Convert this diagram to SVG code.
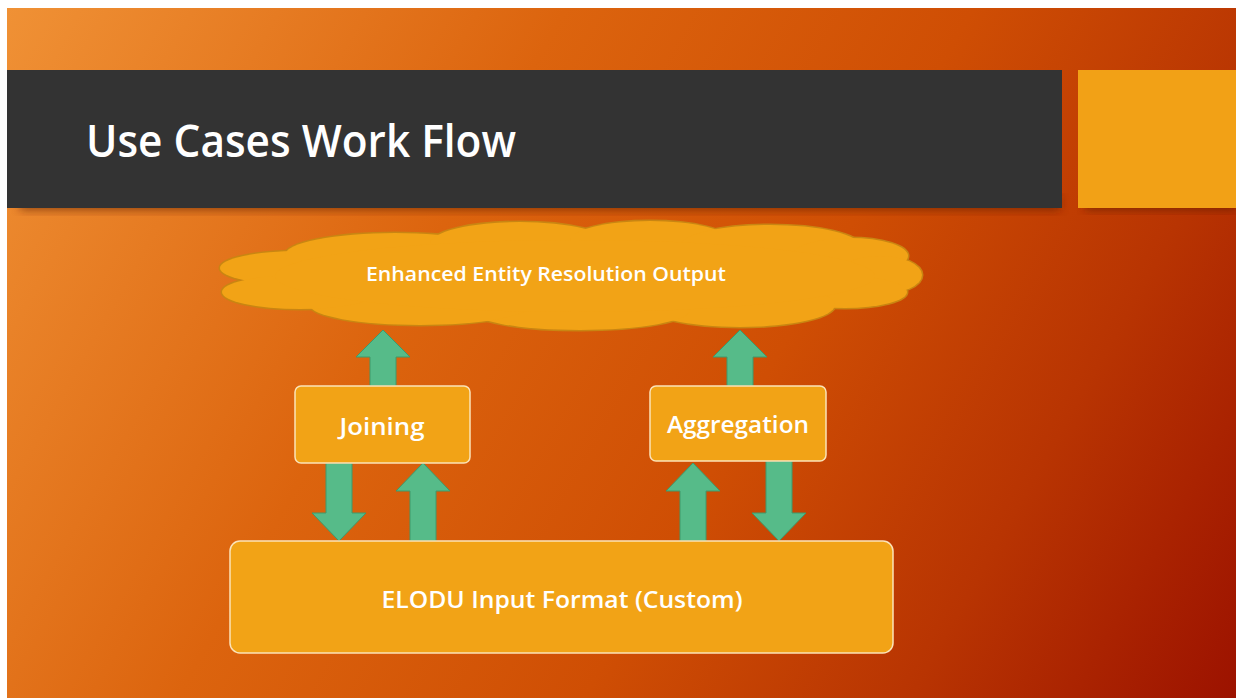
<svg xmlns="http://www.w3.org/2000/svg" width="1236" height="698" viewBox="0 0 1236 698">
  <defs>
    <linearGradient id="bg" gradientUnits="userSpaceOnUse" x1="0" y1="0" x2="1236" y2="698">
      <stop offset="0" stop-color="#f09236"/>
      <stop offset="0.35" stop-color="#dc640e"/>
      <stop offset="0.6" stop-color="#cf4e04"/>
      <stop offset="0.8" stop-color="#b83402"/>
      <stop offset="1" stop-color="#9c1200"/>
    </linearGradient>
    <filter id="shadow" x="-5%" y="-20%" width="110%" height="160%">
      <feGaussianBlur stdDeviation="5"/>
    </filter>
    <style>
      .txt { font-family: "Open Sans", "DejaVu Sans", sans-serif; font-weight: 600; fill: #ffffff; text-anchor: middle; }
      .box { fill: #f2a316; stroke: #fbe3b8; stroke-width: 1.5; }
      .arrow { fill: #56bb89; stroke: #3e9a6b; stroke-width: 1; }
      .cloudo { fill: #f2a316; stroke: #c98512; stroke-width: 3; }
      .cloudi { fill: #f2a316; }
    </style>
  </defs>

  <rect x="0" y="0" width="1236" height="698" fill="#ffffff"/>
  <rect x="7" y="8" width="1229" height="690" fill="url(#bg)"/>

  <g id="title-bar">
    <rect x="20" y="196" width="1040" height="14" fill="#5a1a00" opacity="0.6" filter="url(#shadow)"/>
    <rect x="7" y="70" width="1055" height="138" fill="#333333"/>
    <text x="86" y="157" font-family="Open Sans, DejaVu Sans, sans-serif" font-weight="600" font-size="45" fill="#ffffff" textLength="430" lengthAdjust="spacingAndGlyphs">Use Cases Work Flow</text>
  </g>
  <g id="accent-box">
    <rect x="1085" y="198" width="151" height="12" fill="#5a1a00" opacity="0.6" filter="url(#shadow)"/>
    <rect x="1078" y="70" width="158" height="138" fill="#f2a116"/>
  </g>

  <g id="cloud-output">
    <g class="cloudo">
      <ellipse cx="300" cy="268" rx="80" ry="17"/>
      <ellipse cx="395" cy="255" rx="110" ry="22"/>
      <ellipse cx="520" cy="244" rx="90" ry="22"/>
      <ellipse cx="650" cy="241" rx="80" ry="20"/>
      <ellipse cx="770" cy="246" rx="90" ry="21"/>
      <ellipse cx="850" cy="256" rx="58" ry="18"/>
      <ellipse cx="880" cy="275" rx="42" ry="19"/>
      <ellipse cx="845" cy="292" rx="62" ry="16"/>
      <ellipse cx="740" cy="305" rx="95" ry="22"/>
      <ellipse cx="580" cy="310" rx="110" ry="20"/>
      <ellipse cx="420" cy="305" rx="110" ry="20"/>
      <ellipse cx="300" cy="292" rx="78" ry="17"/>
    </g>
    <g class="cloudi">
      <ellipse cx="300" cy="268" rx="80" ry="17"/>
      <ellipse cx="395" cy="255" rx="110" ry="22"/>
      <ellipse cx="520" cy="244" rx="90" ry="22"/>
      <ellipse cx="650" cy="241" rx="80" ry="20"/>
      <ellipse cx="770" cy="246" rx="90" ry="21"/>
      <ellipse cx="850" cy="256" rx="58" ry="18"/>
      <ellipse cx="880" cy="275" rx="42" ry="19"/>
      <ellipse cx="845" cy="292" rx="62" ry="16"/>
      <ellipse cx="740" cy="305" rx="95" ry="22"/>
      <ellipse cx="580" cy="310" rx="110" ry="20"/>
      <ellipse cx="420" cy="305" rx="110" ry="20"/>
      <ellipse cx="300" cy="292" rx="78" ry="17"/>
      <ellipse cx="575" cy="276" rx="300" ry="36"/>
    </g>
    <text class="txt" x="546" y="281" font-size="20" textLength="360" lengthAdjust="spacingAndGlyphs">Enhanced Entity Resolution Output</text>
  </g>

  <g id="connectors">
    <path class="arrow" d="M383,330 L410,357 L396,357 L396,386 L370,386 L370,357 L356,357 Z"/>
    <path class="arrow" d="M740,330 L767,357 L753,357 L753,386 L727,386 L727,357 L713,357 Z"/>
    <path class="arrow" d="M326,463 L352,463 L352,513 L366,513 L339,541 L312,513 L326,513 Z"/>
    <path class="arrow" d="M423,463 L450,491 L436,491 L436,541 L410,541 L410,491 L396,491 Z"/>
    <path class="arrow" d="M693,463 L720,491 L706,491 L706,541 L680,541 L680,491 L666,491 Z"/>
    <path class="arrow" d="M766,461 L792,461 L792,513 L806,513 L779,541 L752,513 L766,513 Z"/>
  </g>

  <g id="joining">
    <rect class="box" x="295" y="386" width="175" height="77" rx="6"/>
    <text class="txt" x="382" y="435" font-size="24" textLength="85" lengthAdjust="spacingAndGlyphs">Joining</text>
  </g>

  <g id="aggregation">
    <rect class="box" x="650" y="386" width="176" height="75" rx="6"/>
    <text class="txt" x="738" y="433" font-size="24" textLength="142" lengthAdjust="spacingAndGlyphs">Aggregation</text>
  </g>

  <g id="elodu-input">
    <rect class="box" x="230" y="541" width="663" height="112" rx="10"/>
    <text class="txt" x="562" y="608" font-size="24" textLength="361" lengthAdjust="spacingAndGlyphs">ELODU Input Format (Custom)</text>
  </g>
</svg>
